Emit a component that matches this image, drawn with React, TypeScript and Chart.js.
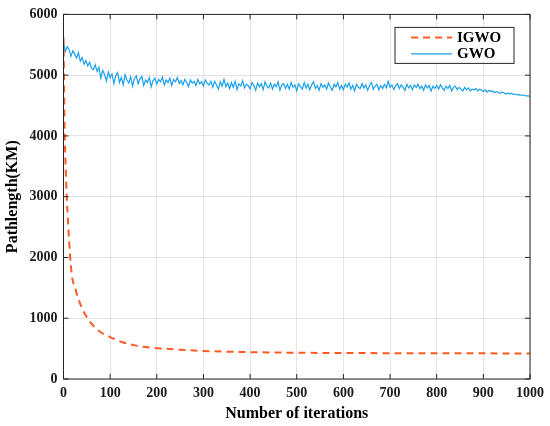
import { useEffect, useRef } from 'react'
import { Chart, registerables } from 'chart.js'

Chart.register(...registerables)

// axis ticks
const xTickValues = [0, 100, 200, 300, 400, 500, 600, 700, 800, 900, 1000]
const yTickValues = [0, 1000, 2000, 3000, 4000, 5000, 6000]

// IGWO (smooth convergence curve), read at a handful of iterations
const igwoIter = [0, 1, 2, 3, 5, 7, 10, 14, 18, 25, 30, 40, 46, 55, 67, 80, 100, 125, 153, 175, 200, 250, 300, 350, 400, 500, 600, 700, 800, 900, 1000]
const igwoPath = [5620, 5000, 4300, 3900, 3400, 3000, 2550, 2050, 1700, 1500, 1360, 1160, 1070, 960, 850, 770, 690, 610, 553, 525, 508, 482, 462, 450, 442, 432, 428, 425, 423, 422, 420]

// GWO (noisy curve), read every 4 iterations
const gwoStep = 4
const gwoPath = [
  5540, 5390, 5470, 5420, 5310, 5400, 5350, 5280, 5370, 5230,
  5290, 5180, 5240, 5150, 5210, 5120, 5090, 5170, 5060, 5130,
  4950, 5080, 5010, 4900, 5050, 4960, 5020, 4860, 4990, 5040,
  4880, 4960, 4840, 5010, 4920, 4870, 4970, 4820, 4950, 4990,
  4860, 4940, 4980, 4830, 4920, 4880, 4960, 4810, 4910, 4950,
  4850, 4930, 4890, 4970, 4840, 4920, 4880, 4950, 4830, 4930,
  4890, 4960, 4860, 4910, 4840, 4930, 4880, 4810, 4920, 4870,
  4900, 4830, 4930, 4860, 4890, 4820, 4920, 4870, 4840, 4900,
  4800, 4900, 4840, 4770, 4890, 4820, 4930, 4810, 4870, 4780,
  4880, 4800, 4900, 4760, 4860, 4820, 4910, 4790, 4850, 4830,
  4770, 4880, 4830, 4750, 4870, 4810, 4860, 4760, 4890, 4820,
  4790, 4870, 4770, 4850, 4810, 4890, 4750, 4840, 4860, 4780,
  4850, 4770, 4880, 4800, 4840, 4740, 4860, 4810, 4770, 4880,
  4790, 4850, 4760, 4840, 4890, 4780, 4830, 4750, 4860, 4800,
  4840, 4770, 4870, 4800, 4750, 4850, 4810, 4880, 4770, 4830,
  4760, 4850, 4800, 4870, 4770, 4830, 4740, 4850, 4800, 4780,
  4860, 4790, 4840, 4750, 4830, 4880, 4770, 4820, 4850, 4760,
  4830, 4780, 4850, 4790, 4900, 4800, 4840, 4760, 4830, 4860,
  4780, 4840, 4800, 4750, 4850, 4790, 4830, 4760, 4840, 4800,
  4850, 4780, 4820, 4750, 4840, 4790, 4830, 4740, 4820, 4780,
  4830, 4770, 4840, 4790, 4750, 4820, 4780, 4830, 4740, 4800,
  4820, 4760, 4800, 4770, 4740, 4800, 4760, 4790, 4740, 4770,
  4760, 4780, 4740, 4770, 4750, 4730, 4760, 4720, 4750, 4730,
  4740, 4710, 4730, 4720, 4700, 4720, 4710, 4690, 4705, 4695,
  4700, 4685, 4690, 4675, 4680, 4670, 4672, 4665, 4660, 4658,
  4650,
]

const seriesLabels = ['IGWO', 'GWO']
const seriesColors = ['#ff5a26', '#1aa0ee']

const serif = '"Liberation Serif", "Times New Roman", serif'

const framePlugin = {
  id: 'matlabFrame',
  afterDatasetsDraw(chart: any) {
    const { ctx, chartArea: a, scales } = chart
    ctx.save()
    ctx.strokeStyle = '#262626'
    ctx.lineWidth = 1
    ctx.strokeRect(a.left, a.top, a.right - a.left, a.bottom - a.top)
    // inward tick marks on all four sides
    const tl = 5
    ctx.beginPath()
    xTickValues.forEach((v) => {
      const x = scales.x.getPixelForValue(v)
      ctx.moveTo(x, a.bottom)
      ctx.lineTo(x, a.bottom - tl)
      ctx.moveTo(x, a.top)
      ctx.lineTo(x, a.top + tl)
    })
    yTickValues.forEach((v) => {
      const y = scales.y.getPixelForValue(v)
      ctx.moveTo(a.left, y)
      ctx.lineTo(a.left + tl, y)
      ctx.moveTo(a.right, y)
      ctx.lineTo(a.right - tl, y)
    })
    ctx.stroke()

    // boxed legend in the upper right corner
    const bw = 119
    const bh = 36
    const bx = a.right - 16 - bw
    const by = a.top + 13
    ctx.fillStyle = '#ffffff'
    ctx.fillRect(bx, by, bw, bh)
    ctx.strokeStyle = '#262626'
    ctx.strokeRect(bx, by, bw, bh)
    ctx.font = 'bold 15px ' + serif
    ctx.textBaseline = 'middle'
    ctx.textAlign = 'left'
    chart.data.datasets.forEach((ds: any, i: number) => {
      const ly = by + 10 + i * 16.5
      ctx.beginPath()
      ctx.strokeStyle = ds.borderColor
      ctx.lineWidth = ds.borderWidth
      ctx.setLineDash(ds.borderDash || [])
      ctx.moveTo(bx + 16, ly)
      ctx.lineTo(bx + 57, ly)
      ctx.stroke()
      ctx.setLineDash([])
      ctx.fillStyle = '#000000'
      ctx.fillText(ds.label, bx + 62, ly + 0.5)
    })
    ctx.restore()
  },
}

export default function App() {
  const canvasRef = useRef<HTMLCanvasElement>(null)
  const chartRef = useRef<Chart | null>(null)

  useEffect(() => {
    if (!canvasRef.current) return
    if (chartRef.current) chartRef.current.destroy()

    const tickFont = { family: serif, size: 14, weight: 'bold' as const }
    const titleFont = { family: serif, size: 16, weight: 'bold' as const }

    chartRef.current = new Chart(canvasRef.current, {
      type: 'line',
      data: {
        datasets: [
          {
            label: seriesLabels[0],
            data: igwoIter.map((x, i) => ({ x, y: igwoPath[i] })),
            borderColor: seriesColors[0],
            borderWidth: 2,
            borderDash: [7, 5],
            pointRadius: 0,
            cubicInterpolationMode: 'monotone',
            order: 0,
          },
          {
            label: seriesLabels[1],
            data: gwoPath.map((y, i) => ({ x: i * gwoStep, y })),
            borderColor: seriesColors[1],
            borderWidth: 1.2,
            pointRadius: 0,
            tension: 0,
            order: 1,
          },
        ],
      },
      options: {
        animation: false,
        responsive: false,
        devicePixelRatio: 1,
        layout: { padding: { top: 11, right: 19, left: 0, bottom: 0 } },
        plugins: {
          legend: { display: false },
          tooltip: { enabled: false },
        },
        scales: {
          x: {
            type: 'linear',
            min: 0,
            max: 1000,
            afterFit: (s: any) => { s.height = 47 },
            afterBuildTicks: (s: any) => { s.ticks = xTickValues.map((value) => ({ value })) },
            ticks: { font: tickFont, color: '#1a1a1a', padding: 6, maxRotation: 0, callback: (v: any) => String(v) },
            grid: { color: '#e3e3e3', drawTicks: false },
            border: { display: false },
            title: { display: true, text: 'Number of iterations', font: titleFont, color: '#000', padding: { top: 3, bottom: 3 } },
          },
          y: {
            type: 'linear',
            min: 0,
            max: 6000,
            afterFit: (s: any) => { s.width = 63.5 },
            afterBuildTicks: (s: any) => { s.ticks = yTickValues.map((value) => ({ value })) },
            ticks: { font: tickFont, color: '#1a1a1a', padding: 6, callback: (v: any) => String(v) },
            grid: { color: '#e3e3e3', drawTicks: false },
            border: { display: false },
            title: { display: true, text: 'Pathlength(KM)', font: titleFont, color: '#000', padding: { top: 3, bottom: 3 } },
          },
        },
      },
      plugins: [framePlugin],
    })

    return () => {
      if (chartRef.current) {
        chartRef.current.destroy()
        chartRef.current = null
      }
    }
  }, [])

  return (
    <div style={{ position: 'absolute', left: 0, top: 0, width: 550, height: 426, background: '#fff' }}>
      <canvas ref={canvasRef} width={550} height={426} style={{ width: 550, height: 426 }} />
    </div>
  )
}
